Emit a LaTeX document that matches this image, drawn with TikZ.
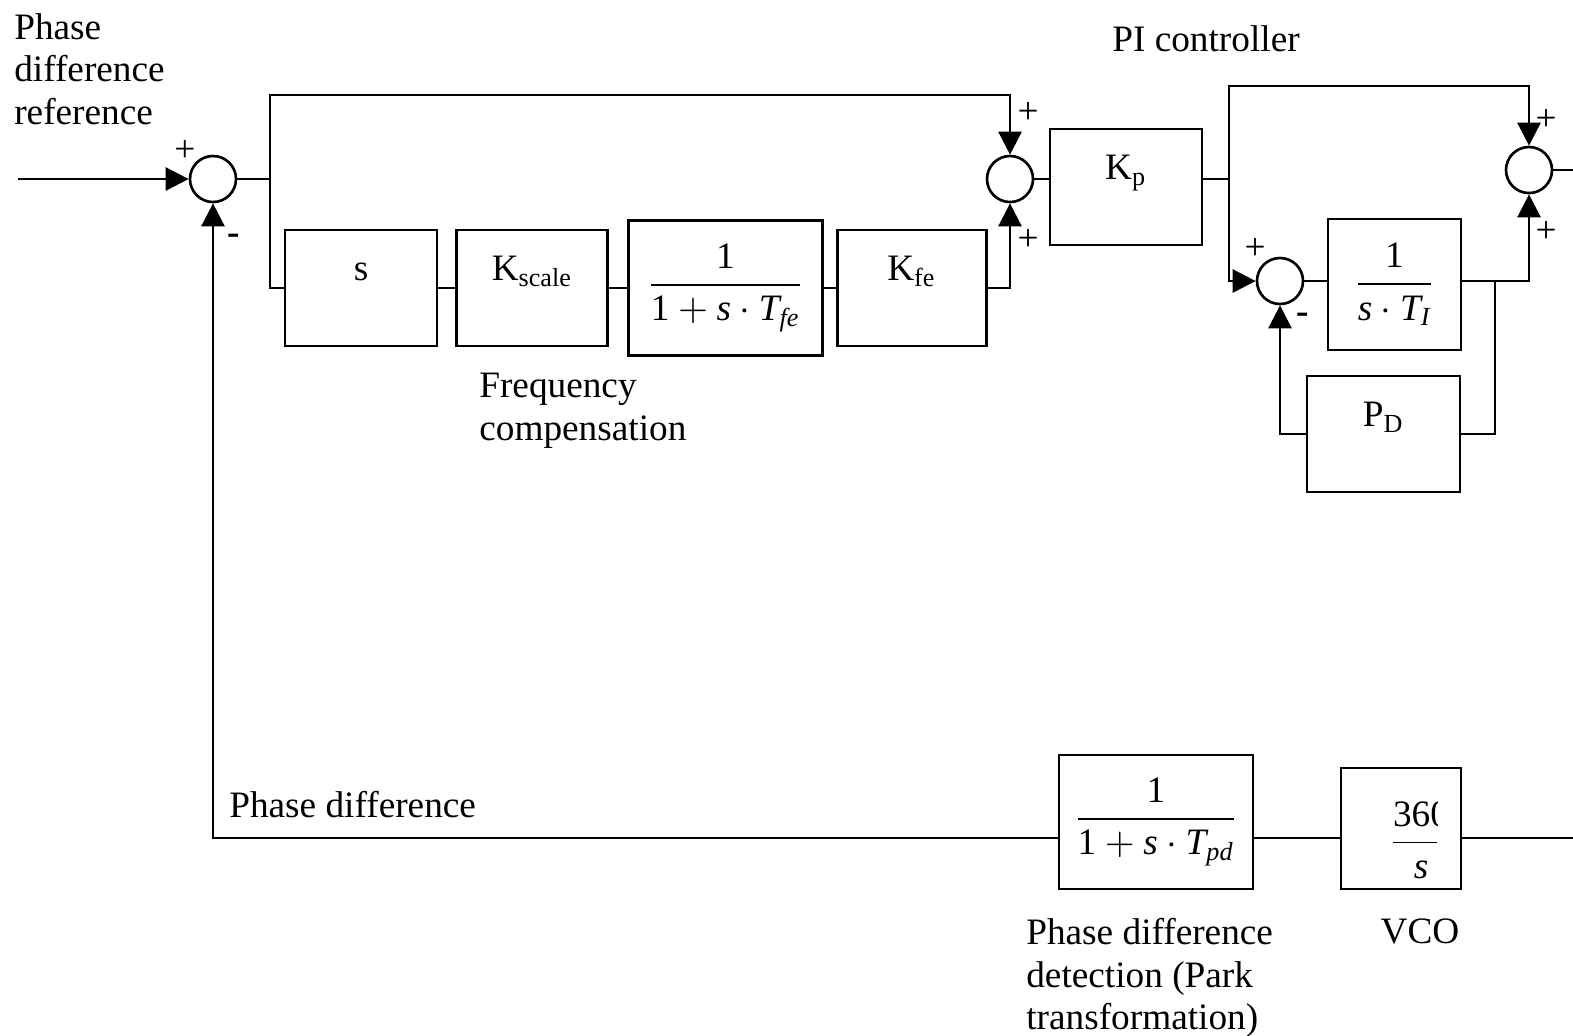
\documentclass[tikz,border=0pt]{standalone}
\usepackage{amsmath}
\usepackage{fontspec}
\setmainfont{Liberation Serif}
\usetikzlibrary{arrows.meta,positioning}

\begin{document}
\begin{tikzpicture}[x=0.01cm, y=-0.01cm, line width=0.75pt,
    font=\fontsize{10.6}{12.1}\selectfont,
    blk/.style={rectangle, draw, inner sep=0pt, minimum height=1.16cm},
    txt/.style={text height=0.3cm, text depth=0.45cm},
    sm/.style={circle, draw, inner sep=0pt, minimum size=0.46cm},
    sgn/.style={inner sep=0pt},
    lbl/.style={align=left, inner sep=0pt, anchor=north west},
    fl/.style={-{Triangle[length=2.3mm,width=2.3mm]}}]
  \useasboundingbox (0,0) rectangle (1573,1035);
  % summing points
  \node[sm] (sum1) at (213,179) {};
  \node[sm] (sum2) at (1010,179) {};
  \node[sm] (sum3) at (1280,281) {};
  \node[sm] (sum4) at (1529,170) {};
  % frequency compensation
  \node[blk, txt, minimum width=1.52cm] (s) at (361,288) {s};
  \node[blk, txt, minimum width=1.51cm, right=0.17cm of s] (ksc)
    {K\textsubscript{scale}};
  \node[blk, minimum width=1.94cm, minimum height=1.35cm, right=0.18cm of ksc]
    (tfe) {$\dfrac{\textrm{1}}{\textrm{1}+\textit{s}\cdot
    \textit{T}_{\textit{fe}}}$};
  \node[blk, txt, minimum width=1.49cm, right=0.12cm of tfe] (kfe)
    {K\textsubscript{fe}};
  % PI controller
  \node[blk, txt, minimum width=1.52cm] (kp) at (1126,187) {K\textsubscript{p}};
  \node[blk, minimum width=1.33cm, minimum height=1.31cm] (ti) at (1394.5,284.5)
    {$\dfrac{\textrm{1}}{\textit{s}\cdot\textit{T}_{\textit{I}}}$};
  \node[blk, txt, minimum width=1.53cm] (pd) at (1383.5,434) {P\textsubscript{D}};
  % feedback path
  \node[blk, minimum width=1.94cm, minimum height=1.34cm] (tpd) at (1156,822)
    {$\dfrac{\textrm{1}}{\textrm{1}+\textit{s}\cdot
    \textit{T}_{\textit{pd}}}$};
  \node[blk, minimum width=1.2cm, minimum height=1.21cm] (vco) at (1401,828.5) {};
  \begin{scope}
    \clip (vco.north west) rectangle (1437,889);
    \node (vcotf) at (1421,840) {$\dfrac{\textrm{360}}{\textit{s}}$};
  \end{scope}

  \coordinate (in) at (18,179);
  \coordinate (b1) at (270,179);
  \coordinate (top1) at (270,95);
  \coordinate (b2) at (1229,179);
  \coordinate (top2) at (1229,86);
  \coordinate (b3) at (1495,281);
  \coordinate (out) at (1573,170);
  \coordinate (fbin) at (1573,838);

  \draw[fl] (in) -- (sum1);
  \draw (sum1) -- (b1);
  \draw[fl] (b1) -- (top1) -| (sum2);
  \draw (b1) |- (s);
  \draw (s) -- (ksc); \draw (ksc) -- (tfe); \draw (tfe) -- (kfe);
  \draw[fl] (kfe) -| (sum2);
  \draw (sum2) -- (sum2 -| kp.west);
  \draw (kp.east |- b2) -- (b2);
  \draw[fl] (b2) -- (top2) -| (sum4);
  \draw[fl] (b2) |- (sum3);
  \draw (sum3) -- (sum3 -| ti.west);
  \draw (ti.east |- sum3) -- (b3);
  \draw[fl] (b3) -| (sum4);
  \draw (b3) |- (pd);
  \draw[fl] (pd) -| (sum3);
  \draw (sum4) -- (out);
  \draw (fbin) -- (fbin -| vco.east);
  \draw (vco.west |- fbin) -- (tpd.east |- fbin);
  \draw[fl] (tpd.west |- fbin) -| (sum1);

  % signs
  \node[sgn] (p1) at (185,151) {+};
  \node[sgn] (m1) at (234,239) {\textbf{-}};
  \node[sgn] (p2a) at (1028,113) {+};
  \node[sgn] (p2b) at (1028,240) {+};
  \node[sgn] (p3) at (1255,249) {+};
  \node[sgn] (m3) at (1303,318) {\textbf{-}};
  \node[sgn] (p4a) at (1546,120) {+};
  \node[sgn] (p4b) at (1546,232) {+};

  % texts
  \node[lbl] (tref) at (13,12) {Phase\\difference\\reference};
  \node[lbl, anchor=north] (tpi) at (1206,24) {PI controller};
  \node[lbl] (tfc) at (478,372) {Frequency\\compensation};
  \node[lbl] (tphd) at (228,790) {Phase difference};
  \node[lbl] (tpdd) at (1025,917) {Phase difference\\detection (Park\\transformation)};
  \node[lbl, anchor=north] (tvco) at (1420,917) {VCO};
\end{tikzpicture}
\end{document}
